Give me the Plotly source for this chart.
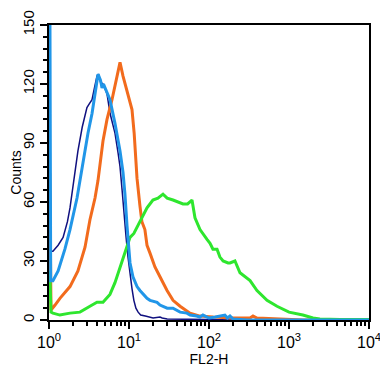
import plotly.graph_objects as go

# FL2-H values and counts
navy_x = [1.02, 1.06, 1.12, 1.30, 1.50, 1.70, 1.83, 1.94, 2.10, 2.30, 2.60, 2.98, 3.20, 3.45, 3.70, 3.98, 4.15, 4.40, 4.73, 5.10, 5.31, 5.80, 6.68, 7.30, 7.72, 8.20, 8.60, 9.20, 9.72, 10.3, 10.9, 11.5, 12.2, 13.0, 14.0, 16.0, 18.0, 20.0, 24.4, 26.0, 30.0, 40.0, 60.0, 80.0, 100.0, 200.0, 10000.0]
navy_y = [89, 35, 35, 38, 42, 50, 57, 65, 73, 86, 98, 108, 110, 112, 118, 124, 125, 121, 120, 117, 115, 105, 95, 85, 78, 66, 55, 42, 32, 22, 16, 10, 6, 4, 2.5, 2, 1.5, 1, 1.5, 1, 0.5, 0.5, 0.3, 0.5, 0.2, 0, 0]

blue_x = [1.02, 1.05, 1.12, 1.30, 1.58, 1.83, 2.24, 2.44, 2.58, 3.07, 3.45, 3.76, 4.10, 4.40, 4.60, 4.80, 5.01, 5.78, 6.68, 7.72, 8.42, 8.90, 9.44, 10.3, 11.2, 12.6, 13.7, 16.8, 18.3, 22.4, 24.4, 30.0, 35.5, 43.5, 53.0, 58.0, 70.0, 77.0, 84.0, 100.0, 120.0, 158.0, 170.0, 183.0, 200.0, 300.0, 10000.0]
blue_y = [200, 20, 20, 25, 36, 46, 62, 71, 75, 95, 105, 115, 125, 122, 118, 120, 118, 112, 100, 86, 75, 64, 48, 29, 22, 17, 15, 11, 10, 9, 7.6, 6, 6, 4, 3.5, 2.5, 2, 1.5, 2.5, 1, 1.5, 2.5, 1, 2, 0.5, 0, 0]

orange_x = [1.02, 1.06, 1.19, 1.37, 1.83, 2.30, 2.82, 3.25, 3.76, 4.10, 4.73, 5.31, 6.13, 7.08, 7.50, 7.72, 8.42, 9.72, 10.9, 11.6, 11.9, 12.6, 13.7, 14.5, 15.8, 16.8, 18.3, 21.1, 24.4, 29.9, 35.5, 43.5, 57.9, 77.0, 112.0, 200.0, 326.0, 355.0, 398.0, 700.0, 1000.0, 1500.0, 10000.0]
orange_y = [75, 5, 7.6, 11, 17, 25, 37, 51, 62, 71, 91, 102, 112, 124, 130, 131, 124, 115, 107, 95, 88, 72, 58, 50, 46, 38, 34, 27, 22, 15, 10, 7, 3.5, 2, 1.5, 1, 1, 2, 1, 0.5, 0.3, 0, 0]

green_x = [1.02, 1.06, 1.12, 1.37, 1.83, 2.44, 3.25, 3.98, 4.73, 5.78, 6.68, 7.72, 8.91, 10.3, 11.5, 12.6, 14.5, 16.8, 19.9, 23.0, 26.6, 30.0, 35.5, 40.0, 47.3, 54.0, 61.3, 66.8, 77.2, 94.4, 103.0, 112.0, 126.0, 137.0, 150.0, 173.0, 183.0, 211.0, 244.0, 326.0, 398.0, 531.0, 708.0, 1000.0, 1491.0, 1995.0, 2432.0, 4340.0, 10000.0]
green_y = [25, 4, 3.5, 2.5, 3.5, 4, 7, 9, 9, 13, 19, 27, 34, 42, 44, 47, 52, 57, 61, 62, 64, 62, 61, 60, 59, 59, 61, 52, 46, 41, 39, 36, 36, 32, 30, 29, 29, 30, 24, 20, 15, 10, 7, 4, 2.5, 1, 0.5, 0.3, 0.3]

x_tickvals = [1, 10, 100, 1000, 10000]
x_ticktext = ["10<sup>0</sup>", "10<sup>1</sup>", "10<sup>2</sup>", "10<sup>3</sup>", "10<sup>4</sup>"]
x_minor = [m * d for d in [1, 10, 100, 1000] for m in range(2, 10)]
y_tickvals = [0, 30, 60, 90, 120, 150]

fig = go.Figure()
series = [
    (navy_x, navy_y, "#10107f", 1.5),
    (orange_x, orange_y, "#f26b1d", 3),
    (green_x, green_y, "#2ee62e", 3),
    (blue_x, blue_y, "#2196e8", 3),
]
for xs, ys, col, w in series:
    fig.add_trace(go.Scatter(x=xs, y=ys, mode="lines", line=dict(color=col, width=w), showlegend=False))

font = dict(family="Liberation Sans, Arial, sans-serif", size=15, color="black")
fig.update_layout(
    width=380, height=363,
    margin=dict(l=41, r=19, t=17, b=51),
    paper_bgcolor="white", plot_bgcolor="white",
    font=font,
)
fig.update_xaxes(
    type="log", range=[0, 4], automargin=False,
    tickvals=x_tickvals, ticktext=x_ticktext,
    ticks="outside", ticklen=7, tickwidth=2, tickcolor="black",
    minor=dict(tickvals=x_minor, ticks="outside", ticklen=4, tickwidth=1.5, tickcolor="black"),
    showline=True, linecolor="black", linewidth=2, mirror=True,
    showgrid=False, zeroline=False,
    title=dict(text="FL2-H", standoff=0, font=dict(size=14)),
    tickfont=dict(size=16),
)
fig.update_yaxes(
    range=[0, 150], automargin=False,
    tickvals=y_tickvals, tickangle=-90,
    ticks="outside", ticklen=7, tickwidth=2, tickcolor="black",
    minor=dict(dtick=6, ticks="outside", ticklen=4, tickwidth=1.5, tickcolor="black"),
    showline=True, linecolor="black", linewidth=2, mirror=True,
    showgrid=False, zeroline=False,
    title=dict(text="Counts", standoff=2, font=dict(size=14)),
    tickfont=dict(size=15),
)
fig.write_html("out.html")
